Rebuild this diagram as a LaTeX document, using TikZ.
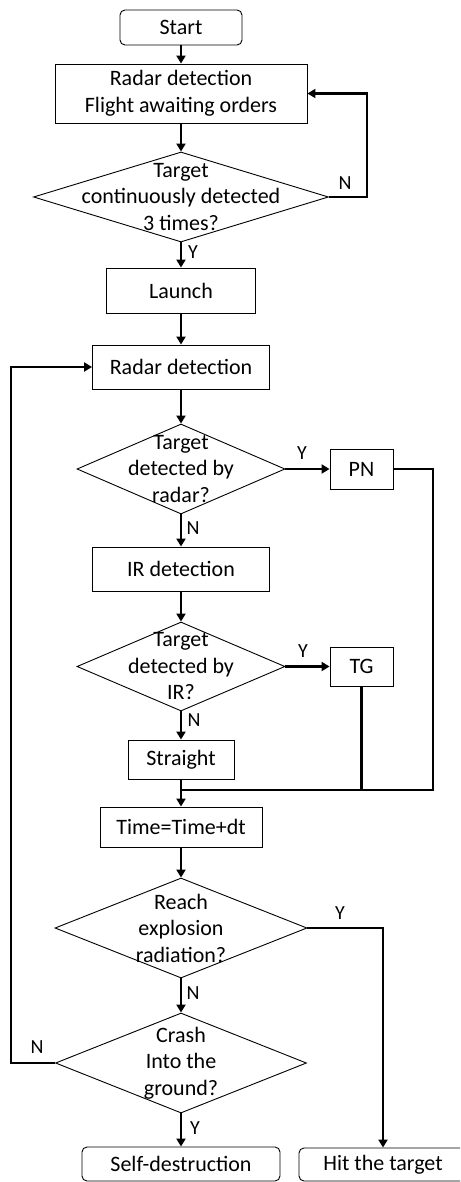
\documentclass[tikz,border=0pt]{standalone}
\usepackage{fontspec}
\setmainfont{Carlito}
\usetikzlibrary{shapes.geometric,arrows.meta}
\begin{document}
\begin{tikzpicture}[x=1pt,y=-1pt,
  fnt/.style={font=\fontsize{22}{26.5}\selectfont},
  box/.style={draw, line width=0.9pt, inner sep=0pt, align=center, fnt},
  term/.style={box, rounded corners=5pt},
  dia/.style={draw, diamond, line width=0.9pt, inner sep=0pt},
  txt/.style={align=center, inner sep=0pt, fnt},
  lab/.style={inner sep=0pt, font=\fontsize{20}{22}\selectfont},
  arr/.style={line width=2.5pt, -{Triangle[length=8pt,width=9pt]}},
  ln/.style={line width=2.5pt}
]
\useasboundingbox (0,0) rectangle (460,1182);
\clip (0,0) rectangle (460,1182);
% nodes
\node[term, minimum width=122pt, minimum height=35pt] (start) at (181,27.5) {Start};
\node[box, minimum width=252pt, minimum height=59pt] (b1) at (181,93.5) {Radar detection\\Flight awaiting orders};
\node[dia, minimum width=295pt, minimum height=90pt] (d1) at (181,197) {};
\node[txt] (d1t) at (d1) {Target\\continuously detected\\3 times?};
\node[box, minimum width=149pt, minimum height=45pt] (launch) at (181,290.5) {Launch};
\node[box, minimum width=177pt, minimum height=44pt] (radar) at (181,367) {Radar detection};
\node[dia, minimum width=208pt, minimum height=90pt] (d2) at (181,469) {};
\node[txt] (d2t) at (d2) {Target\\detected by\\radar?};
\node[box, minimum width=63pt, minimum height=40pt] (pn) at (361.5,469) {PN};
\node[box, minimum width=177pt, minimum height=44pt] (ir) at (181,569) {IR detection};
\node[dia, minimum width=208pt, minimum height=89pt] (d3) at (181,666.5) {};
\node[txt] (d3t) at (d3) {Target\\detected by\\IR?};
\node[box, minimum width=63pt, minimum height=39pt] (tg) at (361.5,666.5) {TG};
\node[box, minimum width=106pt, minimum height=39pt] (straight) at (181,759.5) {Straight};
\node[box, minimum width=162pt, minimum height=40pt] (time) at (181,827) {Time=Time+dt};
\node[dia, minimum width=252pt, minimum height=100pt] (d4) at (181,928) {};
\node[txt] (d4t) at (d4) {Reach\\explosion\\radiation?};
\node[dia, minimum width=251pt, minimum height=100pt] (d5) at (181,1063) {};
\node[txt] (d5t) at (d5) {Crash\\Into the\\ground?};
\node[term, minimum width=198pt, minimum height=34pt] (self) at (181,1164) {Self-destruction};
\node[term, minimum width=168pt, minimum height=33pt] (hit) at (383,1164.5) {Hit the target};
\coordinate (j) at (181,790);
\coordinate (jr) at (433,790);
% connectors
\draw[arr] (start) -- (b1);
\draw[arr] (b1) -- (d1);
\draw[arr] (d1.east) -- ++(38,0) |- (b1.east);
\draw[arr] (d1) -- (launch);
\draw[arr] (launch) -- (radar);
\draw[arr] (radar) -- (d2);
\draw[arr] (d2) -- (pn);
\draw[arr] (d2) -- (ir);
\draw[arr] (ir) -- (d3);
\draw[arr] (d3) -- (tg);
\draw[arr] (d3) -- (straight);
\draw[ln] (pn.east) -| (jr) -- (j);
\draw[ln] (tg.south) -- (tg.south |- j);
\draw[arr] (straight) -- (time);
\draw[arr] (time) -- (d4);
\draw[arr] (d4.east) -| (hit.north);
\draw[arr] (d4) -- (d5);
\draw[arr] (d5.west) -- ++(-44,0) |- (radar.west);
\draw[arr] (d5) -- (self);
% labels
\node[lab] at (345,183) {N};
\node[lab] at (193,252) {Y};
\node[lab] at (302,453) {Y};
\node[lab] at (193,528) {N};
\node[lab] at (303,651) {Y};
\node[lab] at (194,720) {N};
\node[lab] at (340,913) {Y};
\node[lab] at (193,993) {N};
\node[lab] at (37,1047) {N};
\node[lab] at (195,1128) {Y};
\end{tikzpicture}
\end{document}
